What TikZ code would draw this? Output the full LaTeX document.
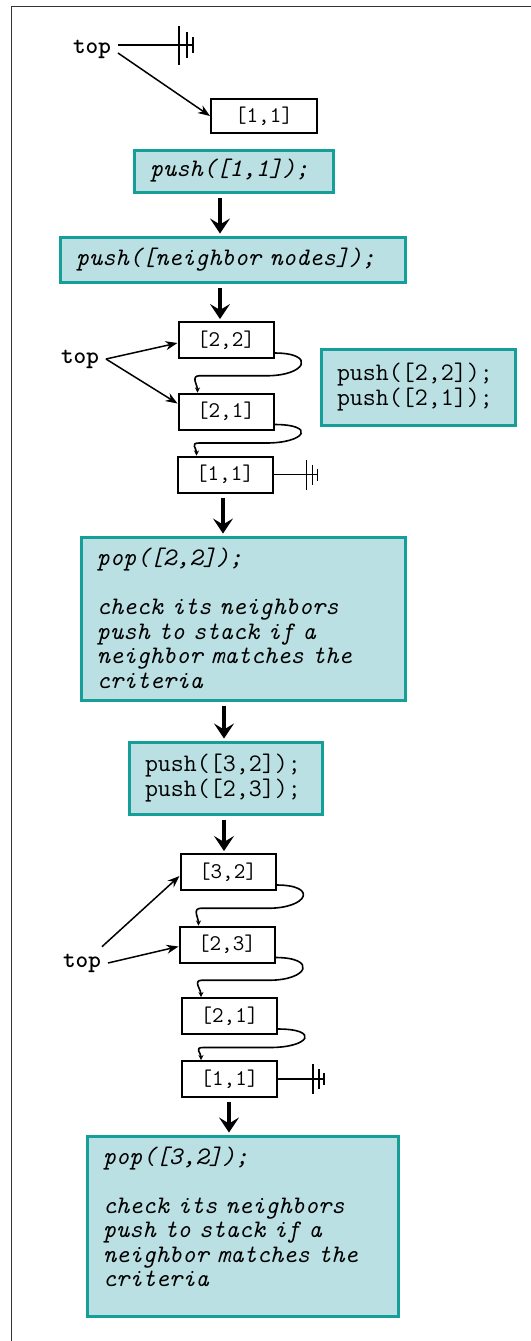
\documentclass[tikz,border=0pt]{standalone}
\usetikzlibrary{arrows.meta,calc}

\definecolor{notebd}{RGB}{22,158,152}
\definecolor{notebg}{RGB}{186,224,228}

\tikzset{
  cell/.style={draw, line width=1pt, minimum width=47.5pt, minimum height=18pt,
    inner sep=0pt, font=\ttfamily\fontsize{11.2}{12}\selectfont},
  note/.style={draw=notebd, line width=1.5pt, fill=notebg, align=left,
    inner xsep=8pt, inner ysep=0pt, font=\ttfamily\fontsize{12.6}{12.25}\selectfont},
  opnote/.style={note, font=\ttfamily\itshape\fontsize{12.6}{12.25}\selectfont},
  toplbl/.style={font=\ttfamily\bfseries\fontsize{12}{12}\selectfont},
  flow/.style={line width=1.7pt, shorten <=2pt, shorten >=1pt,
    -{Stealth[length=7.5pt,width=10pt,inset=3pt]}},
  ptr/.style={line width=0.75pt, -{Stealth[length=6pt,width=4.5pt]}},
  link/.style={line width=0.8pt, -{Stealth[length=2.5pt,width=2.5pt]}},
  nullend/.pic={
    \draw[line width=0.8pt] (0,0) -- (11,0) (0,-15) -- (0,15)
      (6,-10) -- (6,10) (11,-6) -- (11,6);
  },
}

\begin{document}
\begin{tikzpicture}[x=0.5pt, y=-0.5pt]
  \useasboundingbox (0,0) rectangle (531,1341);

  % page frame, only top and left edge
  \draw[line width=0.75pt, black!80] (11.5,1341) -- (11.5,6.5) -- (531,6.5);

  % empty stack
  \node[toplbl] (t1) at (92,49) {top};
  \node[cell, minimum width=53pt, minimum height=17pt] (b11) at (264,116) {[1,1]};
  \draw[line width=0.8pt] ([yshift=2pt]t1.east) -- ++(61,0) pic[scale=1.3]{nullend};
  \draw[ptr] ([yshift=-2pt]t1.east) -- (b11.west);

  % first pushes
  \node[opnote, text width=83.5pt, minimum height=21pt] (p1) at (233.5,171) {push([1,1]);};
  \node[opnote, text width=156.5pt, minimum height=22.5pt] (p2) at (232.5,259.5) {push([neighbor nodes]);};

  % stack after pushing the neighbours
  \node[cell] (s22) at (226,340) {[2,2]};
  \node[cell] (s21) at (226,411.5) {[2,1]};
  \node[cell] (s11) at (225,474.5) {[1,1]};
  \node[toplbl] (t2) at (80,359) {top};
  \draw[ptr] (t2.east) -- ([yshift=-1.5pt]s22.west);
  \draw[ptr] (t2.east) -- ([yshift=4pt]s21.west);
  \draw[line width=0.8pt] (s11.east) -- ++(33,0) pic{nullend};
  \node[note, text width=81pt, minimum height=38pt] (n1) at (418,387) {push([2,2]);\\push([2,1]);};

  % first pop
  \node[opnote, text width=146pt, minimum height=81.5pt] (pop1) at (243,618.5)
    {pop([2,2]);\\[12.25pt]check its neighbors\\push to stack if a\\neighbor matches the\\criteria};
  \node[note, text width=80.5pt, minimum height=36pt] (n2) at (225.5,778) {push([3,2]);\\push([2,3]);};

  % stack after the second pushes
  \node[cell] (l32) at (228,872) {[3,2]};
  \node[cell] (l23) at (227,944.5) {[2,3]};
  \node[cell] (l21) at (229.5,1016) {[2,1]};
  \node[cell] (l11) at (229.5,1079) {[1,1]};
  \node[toplbl] (t3) at (82,963) {top};
  \draw[ptr] ([xshift=-3pt]t3.north east) -- ([yshift=-2pt]l32.west);
  \draw[ptr] (t3.east) -- ([yshift=-1pt]l23.west);
  \draw[line width=0.8pt] (l11.east) -- ++(35,0) pic{nullend};

  % second pop
  \node[opnote, text width=139.5pt, minimum height=90pt] (pop2) at (242.5,1226)
    {pop([3,2]);\\[12.25pt]check its neighbors\\push to stack if a\\neighbor matches the\\criteria\\[-3pt]\mbox{}};

  % next-links between stacked cells
  \foreach \a/\b in {s22/s21, s21/s11, l32/l23, l23/l21, l21/l11}
    \draw[link] ([yshift=3pt]\a.south east) .. controls +(42,0) and +(40,0) ..
      ($(\a.south east)!0.5!(\b.north east)+(-8,0)$) --
      ($(\a.south west)!0.5!(\b.north west)+(22,0)$) .. controls +(-9,0) and +(0,-7) ..
      ([xshift=10pt]\b.north west);

  % flow of the steps
  \draw[flow] (p1.south -| 220,0) -- (p2.north -| 220,0);
  \draw[flow] (p2.south -| 220,0) -- (s22.north -| 220,0);
  \draw[flow] (s11.south -| 223,0) -- (pop1.north -| 223,0);
  \draw[flow] (pop1.south -| 224,0) -- (n2.north -| 224,0);
  \draw[flow] (n2.south -| 224,0) -- (l32.north -| 224,0);
  \draw[flow] (l11.south -| 229,0) -- (pop2.north -| 229,0);
\end{tikzpicture}
\end{document}
